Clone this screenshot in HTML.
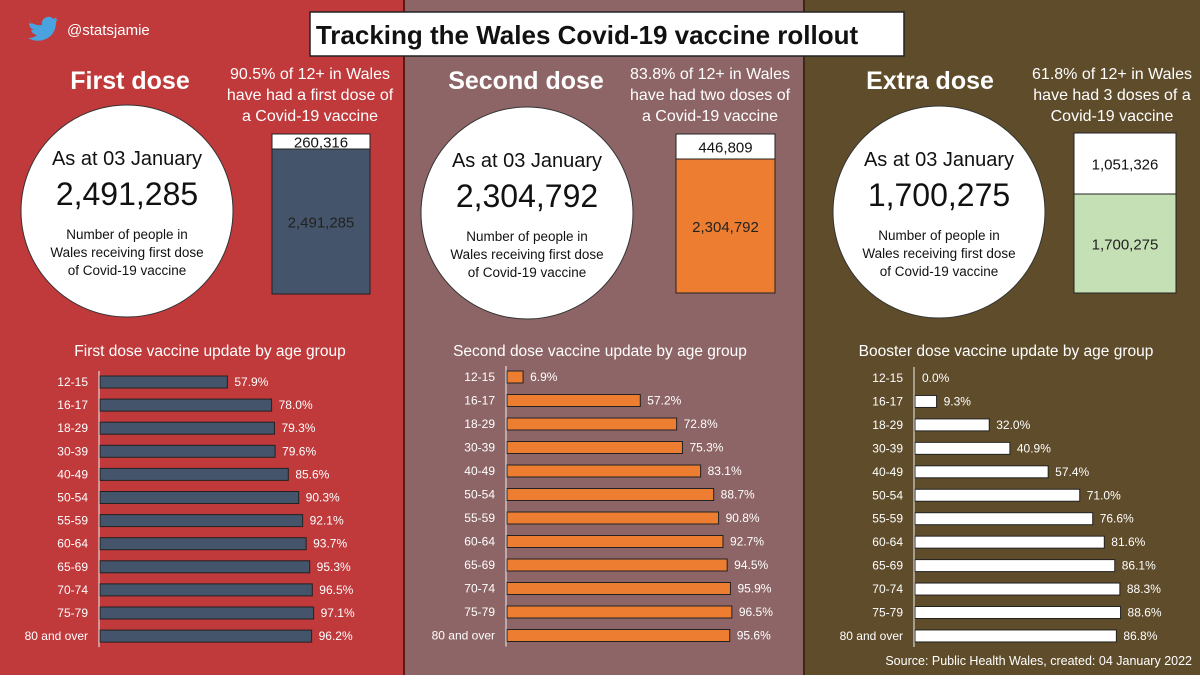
<!DOCTYPE html>
<html><head><meta charset="utf-8"><style>
body{margin:0;width:1200px;height:675px;overflow:hidden;font-family:"Liberation Sans",sans-serif}
svg text{font-family:"Liberation Sans",sans-serif}
</style></head><body>
<svg id="s" width="1200" height="675" xmlns="http://www.w3.org/2000/svg">
<rect x="0" y="0" width="404" height="675" fill="#c0393b"/>
<rect x="404" y="0" width="400" height="675" fill="#8e6566"/>
<rect x="804" y="0" width="396" height="675" fill="#5f4c2b"/>
<line x1="404" y1="0" x2="404" y2="675" stroke="#5a1a1a" stroke-width="2"/>
<line x1="804" y1="0" x2="804" y2="675" stroke="#3a2a15" stroke-width="2"/>
<g>
<path d="M30 22 q6 4 12 3 q-1-6 5-8 q4-1 6 2 l4-2 l-2 3 l3-1 l-2 3 q0 12-10 17 q-9 4-18-1 q6 0 9-3 q-5-1-6-5 l3 0 q-5-2-5-7 l3 1 q-3-3-2-7z" fill="#4aa3df"/>
<text x="67" y="35" font-size="15" fill="#fff">@statsjamie</text>
</g>
<rect x="310" y="12" width="594" height="44" fill="#fff" stroke="#222" stroke-width="1.5"/>
<text x="587" y="44" font-size="26" font-weight="bold" text-anchor="middle" fill="#111">Tracking the Wales Covid-19 vaccine rollout</text>
<g id="tops"></g>
<g id="charts"></g>
<text x="1192" y="665" font-size="12.5" text-anchor="end" fill="#fff">Source:  Public Health Wales, created: 04 January 2022</text>
</svg>
<script>
const ageGroups=["12-15","16-17","18-29","30-39","40-49","50-54","55-59","60-64","65-69","70-74","75-79","80 and over"];
const firstDose=[57.9,78.0,79.3,79.6,85.6,90.3,92.1,93.7,95.3,96.5,97.1,96.2];
const secondDose=[6.9,57.2,72.8,75.3,83.1,88.7,90.8,92.7,94.5,95.9,96.5,95.6];
const boosterDose=[0.0,9.3,32.0,40.9,57.4,71.0,76.6,81.6,86.1,88.3,88.6,86.8];
const headers=["First dose","Second dose","Extra dose"];
const totals=["2,491,285","2,304,792","1,700,275"];
const remaining=["260,316","446,809","1,051,326"];
const subLines=[["90.5% of 12+ in Wales","have had a first dose of","a Covid-19 vaccine"],["83.8% of 12+ in Wales","have had two doses of","a Covid-19 vaccine"],["61.8% of 12+ in Wales","have had 3 doses of a","Covid-19 vaccine"]];
const chartTitles=["First dose vaccine update by age group","Second dose vaccine update by age group","Booster dose vaccine update by age group"];
const NS="http://www.w3.org/2000/svg";
function mk(t,a,p,txt){const e=document.createElementNS(NS,t);for(const k in a)e.setAttribute(k,a[k]);if(txt!==undefined)e.textContent=txt;p.appendChild(e);return e;}
const tops=document.getElementById('tops'),charts=document.getElementById('charts');
const P=[
 {hx:130,cx:127,cy:211,sx:310,bx:272,bw:98,by:134,bb:294,wh:15,fill:"#44546a",ax:99,sc:2.20,y0:382,dy:23.1,tx:210},
 {hx:526,cx:527,cy:213,sx:710,bx:676,bw:99,by:134,bb:293,wh:25,fill:"#ed7d31",ax:506,sc:2.33,y0:377,dy:23.5,tx:600},
 {hx:930,cx:939,cy:212,sx:1112,bx:1074,bw:102,by:133,bb:293,wh:61,fill:"#c5e0b4",ax:914,sc:2.32,y0:378,dy:23.45,tx:1006}];
const data=[firstDose,secondDose,boosterDose];
P.forEach((p,i)=>{
 let h=mk('text',{x:p.hx,y:89,'font-size':25,'font-weight':'bold','text-anchor':'middle',fill:'#fff'},tops,headers[i]);
 
 subLines[i].forEach((l,j)=>{let t=mk('text',{x:p.sx,y:79+j*21,'font-size':16,'text-anchor':'middle',fill:'#fff'},tops,l);
  });
 let c=mk('circle',{cx:p.cx,cy:p.cy,r:106,fill:'#fff',stroke:'#333','stroke-width':1},tops);
 
 mk('text',{x:p.cx,y:p.cy-46,'font-size':20,'text-anchor':'middle',fill:'#111'},tops,"As at 03 January");
 let tv=mk('text',{x:p.cx,y:p.cy-6,'font-size':32,'text-anchor':'middle',fill:'#111'},tops,totals[i]);
 
 ["Number  of people in","Wales receiving first dose","of Covid-19 vaccine"].forEach((l,j)=>mk('text',{x:p.cx,y:p.cy+28+j*18,'font-size':13.5,'text-anchor':'middle',fill:'#111'},tops,l));
 let r1=mk('rect',{x:p.bx,y:p.by,width:p.bw,height:p.wh,fill:'#fff',stroke:'#222','stroke-width':1},tops);
 
 let r2=mk('rect',{x:p.bx,y:p.by+p.wh,width:p.bw,height:p.bb-p.by-p.wh,fill:p.fill,stroke:'#222','stroke-width':1},tops);
 
 mk('text',{x:p.bx+p.bw/2,y:p.by+p.wh/2+6,'font-size':15,'text-anchor':'middle',fill:'#111'},tops,remaining[i]);
 mk('text',{x:p.bx+p.bw/2,y:(p.by+p.wh+p.bb)/2+6,'font-size':15,'text-anchor':'middle',fill:'#222'},tops,totals[i]);
 let ct=mk('text',{x:p.tx,y:356,'font-size':15.5,'text-anchor':'middle',fill:'#fff'},charts,chartTitles[i]);
 
 const n=ageGroups.length;
 mk('line',{x1:p.ax,y1:p.y0-11,x2:p.ax,y2:p.y0+(n-1)*p.dy+11,stroke:'#eee','stroke-width':1},charts);
 data[i].forEach((v,k)=>{
  const y=p.y0+k*p.dy;
  let lb=mk('text',{x:p.ax-11,y:y+4,'font-size':12,'text-anchor':'end',fill:'#fff'},charts,ageGroups[k]);
  
  let b=mk('rect',{x:p.ax+1,y:y-6,width:Math.max(v*p.sc,0),height:12,fill:i==2?'#fff':p.fill,stroke:'#222','stroke-width':1},charts);
  
  let vl=mk('text',{x:p.ax+1+v*p.sc+7,y:y+4,'font-size':12,fill:'#fff'},charts,v.toFixed(1)+"%");
  
 });
});
</script>
</body></html>
